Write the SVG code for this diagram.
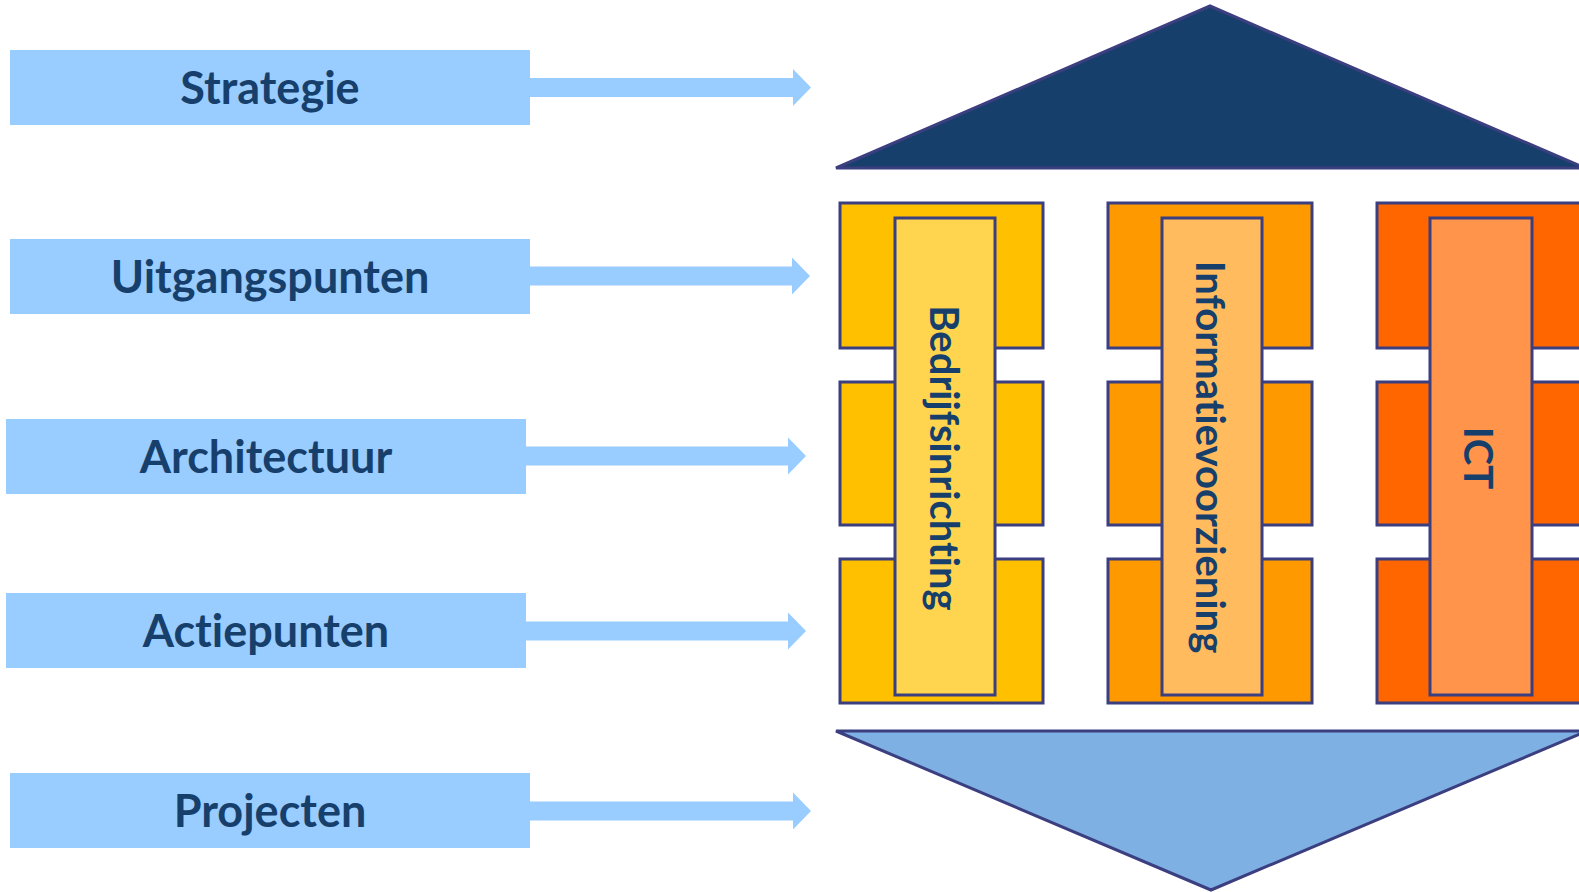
<svg xmlns="http://www.w3.org/2000/svg" width="1579" height="892" viewBox="0 0 1579 892">
<style>
.box{fill:#99CCFF}
.arr{fill:#99CCFF}
.lbl{font-family:Lato,"Open Sans",sans-serif;font-weight:bold;font-size:45px;fill:#173F6B;text-anchor:middle;font-variant-ligatures:none}
.vt{font-family:Lato,"Open Sans",sans-serif;font-weight:bold;font-size:40px;fill:#173F6B;text-anchor:middle;font-variant-ligatures:none}
.ol{stroke:#3B3F80;stroke-width:3}
</style>
<rect width="1579" height="892" fill="#FFFFFF"/>
<g id="connectors">
<polygon class="arr" points="530,78 793,78 793,69 811,87.5 793,106 793,97 530,97"/>
<polygon class="arr" points="530,266.5 792,266.5 792,257.5 810,276 792,294.5 792,285.5 530,285.5"/>
<polygon class="arr" points="526,446.5 788,446.5 788,437.5 806,456 788,474.5 788,465.5 526,465.5"/>
<polygon class="arr" points="526,621.5 788,621.5 788,612.5 806,631 788,649.5 788,640.5 526,640.5"/>
<polygon class="arr" points="530,801.5 793,801.5 793,792.5 811,811 793,829.5 793,820.5 530,820.5"/>
</g>
<g id="strategie"><rect class="box" x="10" y="50" width="520" height="75"/><text class="lbl" x="270" y="104">Strategie</text></g>
<g id="uitgangspunten"><rect class="box" x="10" y="239" width="520" height="75"/><text class="lbl" x="270" y="293">Uitgangspunten</text></g>
<g id="architectuur"><rect class="box" x="6" y="419" width="520" height="75"/><text class="lbl" x="266" y="473">Architectuur</text></g>
<g id="actiepunten"><rect class="box" x="6" y="593" width="520" height="75"/><text class="lbl" x="266" y="647">Actiepunten</text></g>
<g id="projecten"><rect class="box" x="10" y="773" width="520" height="75"/><text class="lbl" x="270" y="827">Projecten</text></g>
<g id="roof"><polygon class="ol" fill="#173F6B" points="836,168 1210,6 1585,168"/></g>
<g id="floor"><polygon class="ol" fill="#7EB0E4" points="836,731 1587,731 1211,890"/></g>
<g id="pillar-bedrijfsinrichting">
<rect class="ol" fill="#FFC000" x="840" y="203" width="203" height="145"/>
<rect class="ol" fill="#FFC000" x="840" y="382" width="203" height="143"/>
<rect class="ol" fill="#FFC000" x="840" y="559" width="203" height="144"/>
<rect class="ol" fill="#FFD54F" x="895" y="218" width="100" height="477"/>
<text class="vt" transform="translate(930,458) rotate(90)">Bedrijfsinrichting</text>
</g>
<g id="pillar-informatievoorziening">
<rect class="ol" fill="#FF9900" x="1108" y="203" width="204" height="145"/>
<rect class="ol" fill="#FF9900" x="1108" y="382" width="204" height="143"/>
<rect class="ol" fill="#FF9900" x="1108" y="559" width="204" height="144"/>
<rect class="ol" fill="#FFBB5E" x="1162" y="218" width="100" height="477"/>
<text class="vt" transform="translate(1196,457) rotate(90)">Informatievoorziening</text>
</g>
<g id="pillar-ict">
<rect class="ol" fill="#FF6600" x="1377" y="203" width="220" height="145"/>
<rect class="ol" fill="#FF6600" x="1377" y="382" width="220" height="143"/>
<rect class="ol" fill="#FF6600" x="1377" y="559" width="220" height="144"/>
<rect class="ol" fill="#FF944A" x="1430" y="218" width="102" height="477"/>
<text class="vt" transform="translate(1464,458) rotate(90)">ICT</text>
</g>
</svg>
